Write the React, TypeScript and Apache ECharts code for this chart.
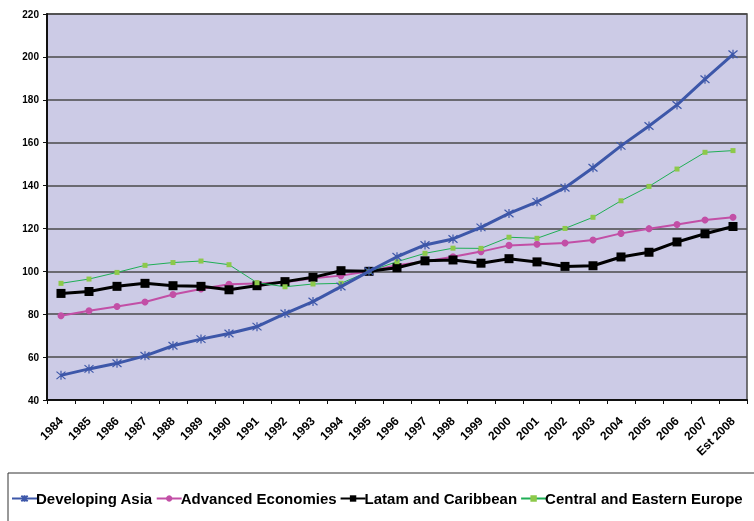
import React, { useEffect, useRef } from "react";
import * as echarts from "echarts";

const categories = [
  "1984", "1985", "1986", "1987", "1988", "1989", "1990", "1991", "1992", "1993",
  "1994", "1995", "1996", "1997", "1998", "1999", "2000", "2001", "2002", "2003",
  "2004", "2005", "2006", "2007", "Est 2008",
];

const developingAsia = [
  51.5, 54.5, 57.1, 60.6, 65.3, 68.4, 71.0, 74.2, 80.3, 85.9,
  92.9, 100, 106.8, 112.3, 115.1, 120.5, 127.0, 132.4, 139.0, 148.3,
  158.5, 167.8, 177.6, 189.6, 201.2,
];

const advancedEconomies = [
  79.3, 81.6, 83.6, 85.7, 89.2, 91.8, 94.0, 94.3, 94.9, 96.8,
  98.0, 100, 102.8, 104.6, 106.8, 109.2, 112.1, 112.6, 113.2, 114.6,
  117.7, 119.9, 121.8, 123.9, 125.2,
];

const latamCaribbean = [
  89.7, 90.6, 93.0, 94.4, 93.3, 93.0, 91.4, 93.3, 95.2, 97.2,
  100.3, 100, 101.7, 104.9, 105.3, 103.8, 105.9, 104.4, 102.3, 102.6,
  106.7, 108.9, 113.7, 117.5, 120.9,
];

const centralEasternEurope = [
  94.4, 96.4, 99.5, 102.8, 104.1, 104.8, 103.1, 94.7, 92.8, 94.1,
  94.4, 100, 104.5, 108.4, 110.8, 110.7, 115.9, 115.4, 120.0, 125.2,
  132.9, 139.6, 147.7, 155.5, 156.3,
];

const yTicks = { min: 40, max: 220, interval: 20 };

const ASTERISK = "path://M0 0L10 10M10 0L0 10M5 -1L5 11";

export default function App() {
  const ref = useRef<HTMLDivElement>(null);
  useEffect(() => {
    if (!ref.current) return;
    const chart = echarts.init(ref.current, null, { renderer: "svg" });
    const font = "'Liberation Sans', Arial, sans-serif";
    chart.setOption({
      animation: false,
      textStyle: { fontFamily: font },
      grid: {
        left: 47,
        right: 7,
        top: 14,
        bottom: 121,
        show: true,
        backgroundColor: "#CCCBE6",
        borderColor: "#4a4a4a",
        borderWidth: 1.5,
      },
      graphic: [
        {
          type: "rect",
          shape: { x: 8, y: 473, width: 760, height: 70 },
          style: { fill: "#ffffff", stroke: "#333333", lineWidth: 1 },
          z: 0,
        },
      ],
      legend: {
        left: 11,
        top: 491,
        width: 1000,
        itemWidth: 25,
        itemHeight: 8,
        itemGap: 3,
        padding: 0,
        textStyle: {
          fontFamily: font,
          fontWeight: "bold",
          fontSize: 15,
          color: "#000",
          padding: [0, 0, 0, -6],
        },
        z: 5,
      },
      xAxis: {
        type: "category",
        data: categories,
        boundaryGap: true,
        axisLine: { lineStyle: { color: "#111", width: 2 } },
        axisTick: { show: true, length: 4, lineStyle: { color: "#111", width: 1 } },
        axisLabel: {
          rotate: 45,
          interval: 0,
          margin: 19,
          fontSize: 12,
          fontWeight: "bold",
          color: "#000",
          fontFamily: font,
        },
        splitLine: { show: false },
      },
      yAxis: {
        type: "value",
        min: yTicks.min,
        max: yTicks.max,
        interval: yTicks.interval,
        axisLine: { show: true, lineStyle: { color: "#111", width: 2 } },
        axisTick: { show: true, length: 4, lineStyle: { color: "#111" } },
        axisLabel: {
          fontSize: 10,
          fontWeight: "bold",
          color: "#000",
          margin: 8,
          fontFamily: font,
        },
        splitLine: { show: true, lineStyle: { color: "#4a4a4a", width: 1.5 } },
      },
      series: [
        {
          name: "Developing Asia",
          type: "line",
          data: developingAsia,
          symbol: ASTERISK,
          symbolSize: 9,
          lineStyle: { color: "#3D57A9", width: 3 },
          itemStyle: { color: "#3D57A9", borderColor: "#3D57A9", borderWidth: 1.2 },
          z: 4,
        },
        {
          name: "Advanced Economies",
          type: "line",
          data: advancedEconomies,
          symbol: "circle",
          symbolSize: 7,
          lineStyle: { color: "#C24FA6", width: 2 },
          itemStyle: { color: "#C24FA6" },
          z: 2,
        },
        {
          name: "Latam and Caribbean",
          type: "line",
          data: latamCaribbean,
          symbol: "rect",
          symbolSize: 9,
          lineStyle: { color: "#000000", width: 3 },
          itemStyle: { color: "#000000" },
          z: 3,
        },
        {
          name: "Central and Eastern Europe",
          type: "line",
          data: centralEasternEurope,
          symbol: "rect",
          symbolSize: 5,
          lineStyle: { color: "#1FAE55", width: 1 },
          itemStyle: { color: "#8DC94A" },
          z: 3,
        },
      ],
    });
    return () => chart.dispose();
  }, []);
  return (
    <div
      ref={ref}
      style={{ position: "fixed", left: 0, top: 0, width: 754, height: 521 }}
    />
  );
}
